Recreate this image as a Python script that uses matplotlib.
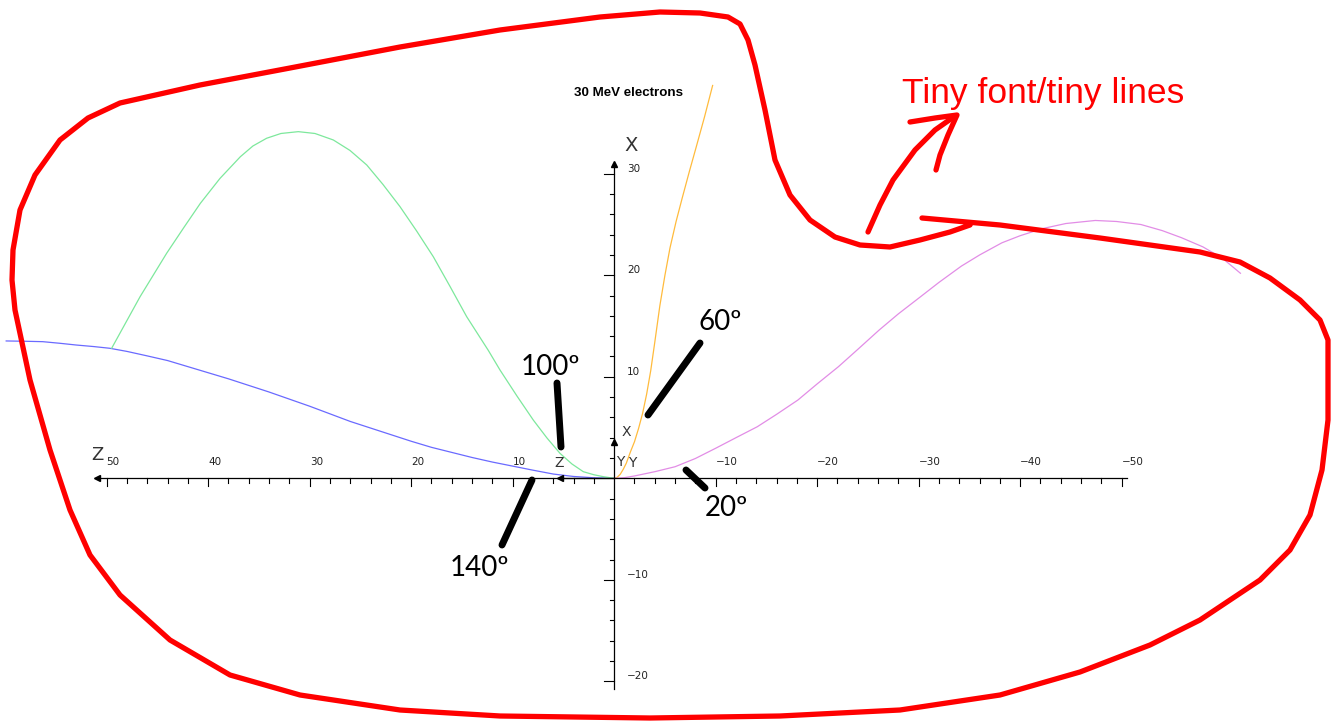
import matplotlib.pyplot as plt

# curves: (Z, X) pairs, Z grows to the left
angle_labels = ["20º", "60º", "100º", "140º"]

z_20 = [0, -1, -2, -4, -6, -8, -10, -12, -14.1, -16, -18.1, -20, -22.1, -24,
        -26.1, -28, -30.2, -32, -34.2, -36, -38.2, -40, -42.2, -44.5, -47.4,
        -49.5, -51.9, -54, -55.9, -58, -59.9, -61.7]
x_20 = [0, 0.06, 0.23, 0.65, 1.14, 1.95, 2.96, 4.0, 5.08, 6.3, 7.71, 9.3, 11.0,
        12.7, 14.6, 16.2, 17.9, 19.3, 20.9, 22.0, 23.2, 23.9, 24.6, 25.1, 25.4,
        25.3, 25.0, 24.4, 23.7, 22.8, 21.7, 20.2]

z_60 = [0, -0.3, -0.6, -0.9, -1.2, -1.6, -2.0, -2.4, -2.8, -3.2, -3.6, -4.0,
        -4.5, -5.0, -5.5, -6.1, -6.7, -7.4, -8.1, -8.9, -9.7]
x_60 = [0, 0.1, 0.4, 0.9, 1.5, 2.6, 3.6, 4.9, 6.4, 8.3, 10.6, 13.4, 17.0, 20.0,
        22.7, 25.3, 27.6, 30.2, 32.7, 35.6, 38.7]

z_100 = [0, 1.07, 2.0, 3.04, 4.16, 5.34, 6.62, 7.97, 9.58, 11.25, 12.4, 14.53,
         16.2, 17.82, 19.46, 21.1, 22.78, 24.38, 26.03, 27.67, 29.48, 31.12,
         32.83, 34.24, 35.59, 36.83, 38.84, 40.77, 42.4, 44.09, 46.71, 49.51]
x_100 = [0, 0.16, 0.35, 0.65, 1.41, 2.46, 3.97, 5.74, 8.11, 10.67, 12.6, 15.92,
         18.95, 21.83, 24.36, 26.76, 28.95, 30.87, 32.3, 33.33, 33.97, 34.15,
         33.97, 33.5, 32.74, 31.68, 29.54, 27.09, 24.7, 22.17, 17.89, 12.81]

z_140 = [0, 2, 4, 6, 8, 10, 12, 14, 16, 18, 20, 22, 24, 26, 28, 30, 32, 34, 36,
         38, 40, 42, 44, 46.1, 48, 49.7, 51.3, 53.0, 54.6, 56.3, 58, 59.9]
x_140 = [0, 0.05, 0.18, 0.42, 0.8, 1.2, 1.6, 2.05, 2.55, 3.05, 3.65, 4.3, 4.95,
         5.6, 6.35, 7.1, 7.8, 8.5, 9.15, 9.8, 10.4, 11.0, 11.6, 12.08, 12.5,
         12.81, 12.98, 13.13, 13.3, 13.46, 13.5, 13.53]

z_ticks = [50, 40, 30, 20, 10, -10, -20, -30, -40, -50]
x_ticks = [30, 20, 10, -10, -20]

# hand-drawn outline (screen pixels)
loop_a = [(970, 225), (950, 232), (920, 240), (890, 247), (860, 245), (835, 237),
          (810, 220), (790, 195), (775, 160), (765, 110), (755, 65), (748, 40),
          (740, 24), (728, 17), (700, 13), (660, 12), (600, 17), (500, 30),
          (400, 47), (290, 68), (200, 85), (120, 103), (88, 118), (60, 140),
          (35, 175), (20, 210), (13, 250), (12, 280), (15, 310), (30, 380),
          (50, 450), (70, 510), (90, 555), (120, 595), (170, 640), (230, 675),
          (300, 695), (400, 710), (500, 716), (650, 718), (780, 716), (900, 710),
          (1000, 695), (1080, 672), (1150, 645), (1200, 620), (1260, 580),
          (1290, 550), (1310, 515), (1322, 470), (1328, 420), (1328, 340),
          (1320, 320), (1300, 300), (1270, 278), (1240, 262), (1200, 252),
          (1100, 238), (1000, 225), (922, 218)]
arrow_shaft = [(868, 232), (880, 205), (893, 180), (915, 150), (935, 130), (955, 116)]
arrow_head = [(910, 122), (935, 118), (957, 115), (948, 135), (940, 155), (936, 170)]

pointers = {
    "60º": ((648, 415), (700, 343), (699, 322)),
    "100º": ((557, 383), (561, 447), (521, 367)),
    "140º": ((532, 480), (502, 545), (450, 568)),
    "20º": ((686, 470), (705, 488), (705, 508)),
}

fig = plt.figure(figsize=(13.4, 7.21), dpi=100)
ax = fig.add_axes([0, 0, 1, 1])
ax.set_xlim(60.51, -71.51)
ax.set_ylim(-23.91, 47.12)
ax.axis("off")

ax.plot(z_140, x_140, color="#6a6aff", lw=0.9)
ax.plot(z_100, x_100, color="#7de89c", lw=0.9)
ax.plot(z_60, x_60, color="#ffbb3c", lw=0.9)
ax.plot(z_20, x_20, color="#e28de6", lw=0.9)

# Z axis
ax.plot([51.0, -50.5], [0, 0], color="black", lw=0.9)
ax.plot([51.0], [0], marker="<", color="black", ms=5)
for z in range(-50, 51, 2):
    if z == 0:
        continue
    length = 0.8 if z % 10 == 0 else 0.42
    ax.plot([z, z], [0, -length], color="black", lw=0.8)
for z in z_ticks:
    lab = str(z) if z > 0 else "\u2212" + str(-z)
    ax.text(z, 1.6, lab, ha="left", va="center", fontsize=7.5, color="#222222")

# X axis
ax.plot([0, 0], [-20.8, 31.0], color="black", lw=0.9)
ax.plot([0], [31.0], marker="^", color="black", ms=5)
for x in range(-20, 31, 2):
    if x == 0:
        continue
    length = 1.0 if x % 10 == 0 else 0.45
    ax.plot([0, length], [x, x], color="black", lw=0.8)
for x in x_ticks:
    lab = str(x) if x > 0 else "\u2212" + str(-x)
    ax.text(-1.26, x + 0.5, lab, ha="left", va="center", fontsize=7.5, color="#222222")

ax.text(50.9, 2.25, "Z", ha="center", va="center", fontsize=13, color="#333333")
ax.text(-1.67, 32.8, "X", ha="center", va="center", fontsize=14, color="#333333")

# small triad at the origin
ax.plot([0, 5.3], [0, 0], color="black", lw=0.9)
ax.plot([5.3], [0], marker="<", color="black", ms=4)
ax.plot([0], [3.6], marker="^", color="black", ms=4)
ax.text(5.4, 1.5, "Z", ha="center", va="center", fontsize=10, color="#333333")
ax.text(-1.2, 4.55, "X", ha="center", va="center", fontsize=10, color="#333333")
ax.text(-0.6, 1.6, "Y", ha="center", va="center", fontsize=10, color="#333333")
ax.text(-1.75, 1.5, "Y", ha="center", va="center", fontsize=10, color="#333333")

ax.text(-1.43, 38.0, "30 MeV electrons", ha="center", va="center",
        fontsize=9.6, fontweight="bold", family="Liberation Sans")

# annotation overlay in screen pixels
ov = fig.add_axes([0, 0, 1, 1])
ov.set_xlim(0, 1340)
ov.set_ylim(721, 0)
ov.axis("off")
ov.patch.set_alpha(0)

lx, ly = zip(*loop_a)
ov.plot(lx, ly, color="red", lw=3.8, solid_capstyle="round", solid_joinstyle="round")
sx, sy = zip(*arrow_shaft)
ov.plot(sx, sy, color="red", lw=3.8, solid_capstyle="round")
hx, hy = zip(*arrow_head)
ov.plot(hx, hy, color="red", lw=3.8, solid_capstyle="round", solid_joinstyle="round")
ov.text(902, 93, "Tiny font/tiny lines", ha="left", va="center", fontsize=25.5,
        color="red", family="Liberation Sans")

for lab in angle_labels:
    p0, p1, tp = pointers[lab]
    ov.plot([p0[0], p1[0]], [p0[1], p1[1]], color="black", lw=5, solid_capstyle="round")
    ov.text(tp[0], tp[1], lab, ha="left", va="center", fontsize=20, family="Lato")

plt.savefig("out.png", dpi=100)
